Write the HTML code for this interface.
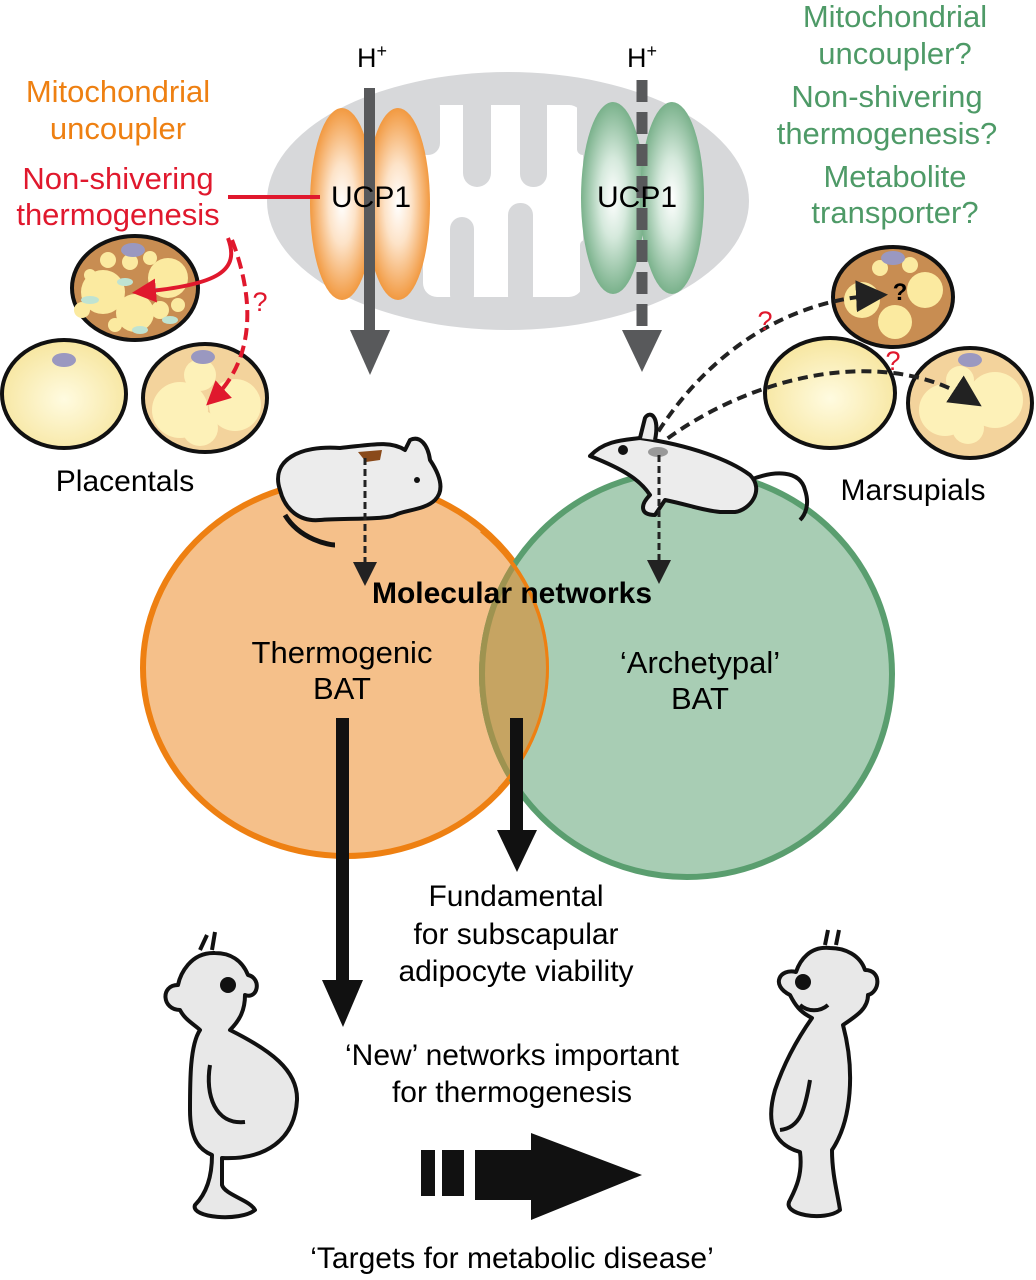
<!DOCTYPE html>
<html><head><meta charset="utf-8"><style>
html,body{margin:0;padding:0;background:#fff;}
svg{display:block;font-family:"Liberation Sans",Arial,sans-serif;}
</style></head><body>
<svg width="1036" height="1280" viewBox="0 0 1036 1280" xmlns="http://www.w3.org/2000/svg">
<defs>
<radialGradient id="og" cx="0.5" cy="0.5" r="0.6"><stop offset="0" stop-color="#fff"/><stop offset="0.35" stop-color="#fde3c8"/><stop offset="1" stop-color="#ee8012"/></radialGradient>
<radialGradient id="gg" cx="0.5" cy="0.5" r="0.6"><stop offset="0" stop-color="#fff"/><stop offset="0.35" stop-color="#d5e9dc"/><stop offset="1" stop-color="#5a9e6f"/></radialGradient>
<radialGradient id="cell" cx="0.5" cy="0.55" r="0.6"><stop offset="0" stop-color="#fffbe0"/><stop offset="1" stop-color="#f6e49a"/></radialGradient>
<clipPath id="oc"><ellipse cx="346" cy="668" rx="203" ry="188"/></clipPath>
<marker id="ah" markerWidth="8" markerHeight="8" refX="6" refY="4" orient="auto"><path d="M0,0 L8,4 L0,8 z" fill="#222"/></marker>
<marker id="rh" markerWidth="6" markerHeight="6" refX="4" refY="3" orient="auto"><path d="M0,0 L6,3 L0,6 z" fill="#e0182d"/></marker>
</defs>

<!-- mitochondrion -->
<ellipse cx="508" cy="201" rx="241" ry="129" fill="#d7d8da"/>
<rect x="423" y="105" width="160" height="192" rx="14" fill="#fff"/>
<g fill="#d7d8da">
<rect x="415" y="95" width="25" height="60" rx="12"/>
<rect x="463" y="90" width="28" height="97" rx="14"/>
<rect x="520" y="90" width="27" height="97" rx="13"/>
<rect x="577" y="95" width="12" height="60" rx="6"/>
<rect x="450" y="217" width="24" height="90" rx="12"/>
<rect x="508" y="203" width="25" height="105" rx="12"/>
<rect x="580" y="240" width="10" height="70" rx="5"/>
</g>

<!-- orange UCP1 -->
<ellipse cx="342" cy="204" rx="32" ry="96" fill="url(#og)"/>
<ellipse cx="398" cy="204" rx="32" ry="96" fill="url(#og)"/>
<!-- green UCP1 -->
<ellipse cx="613" cy="198" rx="32" ry="96" fill="url(#gg)"/>
<ellipse cx="672" cy="198" rx="32" ry="96" fill="url(#gg)"/>

<!-- gray arrows -->
<rect x="364" y="88" width="11" height="245" fill="#58595b"/>
<polygon points="350,330 390,330 370,375" fill="#58595b"/>
<line x1="642" y1="80" x2="642" y2="335" stroke="#58595b" stroke-width="11" stroke-dasharray="22,10"/>
<polygon points="622,330 662,330 642,372" fill="#58595b"/>
<text x="371" y="196" font-size="30" text-anchor="middle" fill="#000" dy="11">UCP1</text>
<text x="637" y="196" font-size="30" text-anchor="middle" fill="#000" dy="11">UCP1</text>
<text x="372" y="67" font-size="27" text-anchor="middle">H<tspan font-size="18" dy="-10">+</tspan></text>
<text x="642" y="67" font-size="27" text-anchor="middle">H<tspan font-size="18" dy="-10">+</tspan></text>

<!-- left text -->
<g font-size="31" text-anchor="middle">
<text x="118" y="102" fill="#ee8012">Mitochondrial</text>
<text x="118" y="139" fill="#ee8012">uncoupler</text>
<text x="118" y="189" fill="#e0182d">Non-shivering</text>
<text x="118" y="225" fill="#e0182d">thermogenesis</text>
</g>
<line x1="228" y1="197" x2="320" y2="197" stroke="#e0182d" stroke-width="4"/>

<!-- right text -->
<g font-size="31" fill="#4e9a67" text-anchor="middle">
<text x="895" y="27">Mitochondrial</text>
<text x="895" y="64">uncoupler?</text>
<text x="887" y="107">Non-shivering</text>
<text x="887" y="144">thermogenesis?</text>
<text x="895" y="187">Metabolite</text>
<text x="895" y="223">transporter?</text>
</g>

<!-- left cells -->
<ellipse cx="135" cy="288" rx="63" ry="52" fill="#c88d52" stroke="#111" stroke-width="4"/>
<g fill="#fbeaa0">
<circle cx="103" cy="292" r="22"/><circle cx="168" cy="278" r="20"/><circle cx="135" cy="313" r="19"/>
<circle cx="108" cy="260" r="8"/><circle cx="130" cy="262" r="8"/><circle cx="150" cy="258" r="7"/><circle cx="82" cy="310" r="8"/>
<circle cx="160" cy="310" r="9"/><circle cx="178" cy="305" r="7"/><circle cx="115" cy="325" r="7"/><circle cx="90" cy="275" r="6"/>
</g>
<g fill="#bfe3d2"><ellipse cx="90" cy="300" rx="9" ry="4"/><ellipse cx="150" cy="290" rx="9" ry="4"/><ellipse cx="125" cy="282" rx="8" ry="4"/><ellipse cx="170" cy="320" rx="8" ry="4"/><ellipse cx="140" cy="330" rx="8" ry="4"/></g>
<ellipse cx="133" cy="250" rx="12" ry="7" fill="#9a98c0"/>
<ellipse cx="64" cy="394" rx="62" ry="54" fill="url(#cell)" stroke="#111" stroke-width="4"/>
<ellipse cx="64" cy="360" rx="12" ry="7" fill="#9a98c0"/>
<ellipse cx="205" cy="398" rx="62" ry="54" fill="#f3d39c" stroke="#111" stroke-width="4"/>
<g fill="#fdf1b8"><circle cx="180" cy="410" r="28"/><circle cx="235" cy="405" r="26"/><circle cx="200" cy="428" r="18"/><circle cx="200" cy="375" r="16"/></g>
<ellipse cx="203" cy="357" rx="12" ry="7" fill="#9a98c0"/>
<path d="M228,238 C240,270 220,285 140,292" fill="none" stroke="#e0182d" stroke-width="4" marker-end="url(#rh)"/>
<path d="M232,240 C255,300 255,360 212,400" fill="none" stroke="#e0182d" stroke-width="4" stroke-dasharray="12,6" marker-end="url(#rh)"/>
<text x="260" y="311" font-size="27" fill="#e0182d" text-anchor="middle">?</text>
<text x="125" y="491" font-size="30" text-anchor="middle">Placentals</text>

<!-- right cells -->
<ellipse cx="893" cy="297" rx="60" ry="50" fill="#c88d52" stroke="#111" stroke-width="4"/>
<g fill="#fbeaa0"><circle cx="862" cy="300" r="18"/><circle cx="925" cy="290" r="18"/><circle cx="895" cy="322" r="17"/><circle cx="880" cy="268" r="8"/><circle cx="910" cy="265" r="8"/></g>
<ellipse cx="893" cy="258" rx="12" ry="7" fill="#9a98c0"/>
<ellipse cx="830" cy="393" rx="65" ry="55" fill="url(#cell)" stroke="#111" stroke-width="4"/>
<ellipse cx="970" cy="403" rx="62" ry="55" fill="#f3d39c" stroke="#111" stroke-width="4"/>
<g fill="#fdf1b8"><circle cx="945" cy="410" r="26"/><circle cx="995" cy="400" r="28"/><circle cx="968" cy="428" r="16"/><circle cx="960" cy="380" r="14"/></g>
<ellipse cx="970" cy="360" rx="12" ry="7" fill="#9a98c0"/>
<path d="M650,445 C700,360 780,300 880,295" fill="none" stroke="#222" stroke-width="4" stroke-dasharray="10,6" marker-end="url(#ah)"/>
<path d="M655,448 C740,380 880,340 975,402" fill="none" stroke="#222" stroke-width="4" stroke-dasharray="10,6" marker-end="url(#ah)"/>
<text x="900" y="300" font-size="24" text-anchor="middle" font-weight="bold">?</text>
<text x="765" y="330" font-size="27" fill="#e0182d" text-anchor="middle">?</text>
<text x="893" y="370" font-size="27" fill="#e0182d" text-anchor="middle">?</text>
<text x="913" y="500" font-size="30" text-anchor="middle">Marsupials</text>

<!-- venn -->
<ellipse cx="346" cy="668" rx="203" ry="188" fill="#f5c08a" stroke="#ee8012" stroke-width="6"/>
<ellipse cx="687" cy="674" rx="205" ry="203" fill="#a8cdb4" stroke="#5a9e6f" stroke-width="6"/>
<ellipse cx="687" cy="674" rx="205" ry="203" fill="#c6a462" stroke="#9e9350" stroke-width="6" clip-path="url(#oc)"/>
<path d="M482,530 A203,188 0 0,1 549,668 A203,188 0 0,1 500,790" fill="none" stroke="#ee8012" stroke-width="6" clip-path="url(#oc)"/>
<text x="512" y="603" font-size="30" font-weight="bold" text-anchor="middle">Molecular networks</text>
<g font-size="31" text-anchor="middle">
<text x="342" y="663">Thermogenic</text>
<text x="342" y="699">BAT</text>
<text x="700" y="673">‘Archetypal’</text>
<text x="700" y="709">BAT</text>
</g>

<!-- mice -->
<g stroke="#111" stroke-width="4" fill="#ececec" stroke-linejoin="round">
<path d="M285,515 C300,540 330,545 335,545" fill="none" stroke-width="5"/>
<path d="M280,490 C270,460 300,445 340,448 C370,445 390,440 405,450 L410,440 C420,435 428,445 430,460 C440,475 445,490 435,500 C425,510 405,510 395,515 C385,520 340,518 320,520 C300,522 285,510 280,490 Z"/>
<circle cx="417" cy="480" r="3" fill="#111" stroke="none"/>
<path d="M750,480 C775,470 800,470 805,490 C810,505 805,515 800,520" fill="none"/>
<path d="M590,456 C605,440 625,440 640,438 C690,445 730,460 750,475 C765,490 750,510 735,512 L720,512 C700,510 690,505 665,500 L655,515 C640,515 640,505 650,495 C640,480 625,470 590,456 Z"/>
<path d="M640,438 L645,418 C650,410 660,416 655,440" />
<circle cx="623" cy="450" r="5" fill="#111" stroke="none"/>
</g>
<path d="M358,452 L382,450 L380,460 L366,462 Z" fill="#8a4a1a"/>
<ellipse cx="658" cy="452" rx="10" ry="5" fill="#999"/>
<line x1="365" y1="458" x2="365" y2="580" stroke="#222" stroke-width="3" stroke-dasharray="7,4" marker-end="url(#ah)"/>
<line x1="659" y1="455" x2="659" y2="578" stroke="#222" stroke-width="3" stroke-dasharray="7,4" marker-end="url(#ah)"/>

<!-- black arrows -->
<rect x="336" y="718" width="13" height="265" fill="#111"/>
<polygon points="322,980 363,980 343,1027" fill="#111"/>
<rect x="510" y="718" width="13" height="115" fill="#111"/>
<polygon points="497,830 537,830 517,872" fill="#111"/>
<g font-size="30" text-anchor="middle">
<text x="516" y="906">Fundamental</text>
<text x="516" y="944">for subscapular</text>
<text x="516" y="981">adipocyte viability</text>
<text x="512" y="1065">‘New’ networks important</text>
<text x="512" y="1102">for thermogenesis</text>
<text x="512" y="1268">‘Targets for metabolic disease’</text>
</g>
<rect x="421" y="1150" width="14" height="46" fill="#111"/>
<rect x="442" y="1150" width="22" height="46" fill="#111"/>
<polygon points="475,1150 531,1150 531,1133 642,1175 531,1220 531,1200 475,1200" fill="#111"/>

<!-- humans -->
<g stroke="#111" stroke-width="4" fill="#e8e8e8" stroke-linejoin="round">
<path d="M215,953 C190,952 180,975 178,985 C160,985 162,1010 180,1010 C185,1020 195,1025 200,1030 C190,1045 190,1080 190,1110 C190,1140 200,1150 212,1155 C212,1180 205,1195 195,1205 C190,1218 240,1222 255,1210 C250,1200 225,1195 222,1185 L222,1158 C265,1160 295,1140 297,1100 C298,1070 270,1050 230,1030 C240,1020 245,1010 245,995 C258,1000 262,978 248,975 C242,960 230,953 215,953 Z"/>
<path d="M830,948 C810,946 800,960 796,972 C780,968 770,985 790,995 C795,1005 800,1012 812,1018 C800,1035 785,1060 775,1090 C765,1125 775,1145 800,1152 C803,1175 795,1190 790,1200 C780,1215 825,1222 840,1210 C838,1195 832,1175 832,1150 C852,1120 855,1070 843,1025 C858,1015 868,1008 868,995 C880,992 882,970 865,970 C860,955 845,948 830,948 Z"/>
</g>
<g fill="none" stroke="#111" stroke-width="4">
<path d="M210,1065 C205,1095 215,1125 245,1122"/><path d="M200,950 L207,935 M212,950 L215,932"/>
<path d="M810,1080 C805,1110 800,1128 780,1130"/><path d="M825,945 L828,930 M836,945 L839,930"/>
<path d="M800,1005 C808,1012 820,1012 828,1005"/>
</g>
<circle cx="228" cy="985" r="8" fill="#111"/>
<circle cx="803" cy="982" r="8" fill="#111"/>
</svg>
</body></html>
